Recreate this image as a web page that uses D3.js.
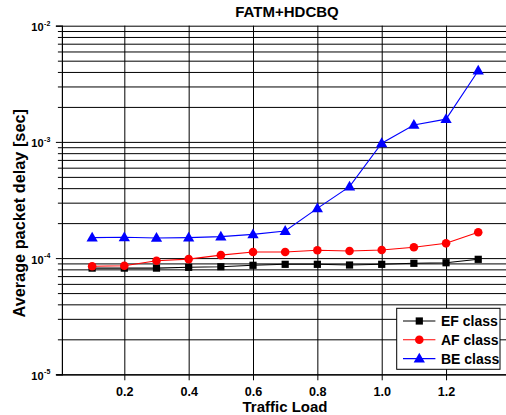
<!DOCTYPE html>
<html>
<head>
<meta charset="utf-8">
<script src="https://cdn.jsdelivr.net/npm/d3@7"></script>
<style>
  html, body { margin: 0; padding: 0; background: #fff; }
  svg { display: block; font-family: "Liberation Sans", Arial, sans-serif; font-weight: bold; }
</style>
</head>
<body>
<svg id="chart" width="506" height="415"></svg>
<script>
// Offered traffic load (x) and mean packet delay per class (seconds)
const loads = [0.1, 0.2, 0.3, 0.4, 0.5, 0.6, 0.7, 0.8, 0.9, 1.0, 1.1, 1.2, 1.3];
const efDelay = [8.2e-5, 8.2e-5, 8.2e-5, 8.33e-5, 8.43e-5, 8.67e-5, 8.84e-5, 8.84e-5, 8.72e-5, 8.84e-5, 9.02e-5, 9.12e-5, 9.76e-5];
const afDelay = [8.5e-5, 8.6e-5, 9.5e-5, 9.8e-5, 1.06e-4, 1.13e-4, 1.13e-4, 1.167e-4, 1.15e-4, 1.174e-4, 1.24e-4, 1.34e-4, 1.667e-4];
const beDelay = [1.5e-4, 1.51e-4, 1.49e-4, 1.5e-4, 1.53e-4, 1.6e-4, 1.71e-4, 2.68e-4, 4.12e-4, 9.73e-4, 1.4e-3, 1.57e-3, 4.1e-3];

const seriesNames = ["EF class", "AF class", "BE class"];
const seriesColors = ["#000000", "#ff0000", "#0000ff"];
const seriesSymbols = [d3.symbolSquare, d3.symbolCircle, d3.symbolTriangle];

const xTickValues = [0.2, 0.4, 0.6, 0.8, 1.0, 1.2];
const yDecades = [1e-5, 1e-4, 1e-3, 1e-2];
const yExponents = ["-5", "-4", "-3", "-2"];

const chartTitle = "FATM+HDCBQ";
const xTitle = "Traffic Load";
const yTitle = "Average packet delay [sec]";

const svg = d3.select("#chart");

const plotLeft = 61.9, plotTop = 25.7, plotBottom = 374.3, plotRight = 510.4;
const x = d3.scaleLinear().domain([0.006, 1.4]).range([plotLeft, plotRight]);
const y = d3.scaleLog().domain([1e-5, 1e-2]).range([plotBottom, plotTop]);

// every 1..9 x 10^k step between the decades
const yAllTicks = [];
for (let e = -5; e < -2; e++) {
  for (let m = 1; m <= 9; m++) yAllTicks.push(m * Math.pow(10, e));
}
yAllTicks.push(1e-2);
const yMinorTicks = yAllTicks.filter(v => !yDecades.some(d => Math.abs(d - v) / d < 1e-9));

// horizontal grid
svg.append("g")
  .attr("transform", `translate(${plotLeft},0)`)
  .call(d3.axisLeft(y).tickValues(yAllTicks).tickSize(-(plotRight - plotLeft)).tickFormat(""))
  .call(g => g.select(".domain").remove())
  .call(g => g.selectAll("line").attr("stroke", "#000").attr("stroke-width", 1));

// vertical grid
svg.append("g")
  .attr("transform", `translate(0,${plotBottom})`)
  .call(d3.axisBottom(x).tickValues(xTickValues).tickSize(-(plotBottom - plotTop)).tickFormat(""))
  .call(g => g.select(".domain").remove())
  .call(g => g.selectAll("line").attr("stroke", "#000").attr("stroke-width", 1));

// y axis: minor ticks
svg.append("g")
  .attr("transform", `translate(${plotLeft},0)`)
  .call(d3.axisLeft(y).tickValues(yMinorTicks).tickSize(4).tickFormat(""))
  .call(g => g.select(".domain").remove());

// y axis: decades with power-of-ten labels
const yMajor = svg.append("g")
  .attr("transform", `translate(${plotLeft},0)`)
  .call(d3.axisLeft(y).tickValues(yDecades).tickSize(6).tickFormat(""))
  .call(g => g.select(".domain").attr("stroke-width", 1.2));

yMajor.selectAll(".tick").each(function(d, i) {
  const t = d3.select(this);
  t.append("text")
    .attr("x", -18.3).attr("y", 5)
    .attr("text-anchor", "end")
    .attr("fill", "#000")
    .style("font-size", "11px")
    .style("font-weight", "bold")
    .text("10");
  t.append("text")
    .attr("x", -17.8).attr("y", -0.6)
    .attr("text-anchor", "start")
    .attr("fill", "#000")
    .style("font-size", "7px")
    .style("font-weight", "bold")
    .text(yExponents[i]);
});

// x axis
svg.append("g")
  .attr("transform", `translate(0,${plotBottom})`)
  .call(d3.axisBottom(x).tickValues(xTickValues).tickSize(6).tickPadding(6.8).tickFormat(d3.format(".1f")))
  .call(g => g.select(".domain").attr("d", `M${plotLeft - 5.5},0.5H${plotRight}`).attr("stroke-width", 1.2))
  .call(g => g.selectAll("text")
    .style("font-size", "12.6px")
    .style("font-weight", "bold")
    .style("font-family", "'Liberation Sans', Arial, sans-serif")
    .attr("fill", "#000"));

// series
const allSeries = [efDelay, afDelay, beDelay];
const line = d3.line().x(d => x(d[0])).y(d => y(d[1]));
const symbolSizes = [52, 58, 55];

allSeries.forEach((vals, i) => {
  const pts = loads.map((l, j) => [l, vals[j]]);
  svg.append("path")
    .datum(pts)
    .attr("fill", "none")
    .attr("stroke", seriesColors[i])
    .attr("stroke-width", 1.1)
    .attr("d", line);
  svg.append("g").selectAll("path")
    .data(pts)
    .join("path")
    .attr("transform", d => `translate(${x(d[0])},${y(d[1]) + (i === 2 ? 0.6 : 0)})`)
    .attr("d", d3.symbol().type(seriesSymbols[i]).size(symbolSizes[i]))
    .attr("fill", seriesColors[i]);
});

// legend
const legend = svg.append("g").attr("transform", "translate(396.7,308.3)");
legend.append("rect")
  .attr("width", 103.3).attr("height", 61)
  .attr("fill", "#fff").attr("stroke", "#000").attr("stroke-width", 1);
seriesNames.forEach((name, i) => {
  const yy = 12.7 + i * 18.8;
  legend.append("line")
    .attr("x1", 6.3).attr("x2", 38.7).attr("y1", yy).attr("y2", yy)
    .attr("stroke", seriesColors[i]).attr("stroke-width", 1.1);
  legend.append("path")
    .attr("transform", `translate(22.6,${yy + (i === 2 ? 0.6 : 0)})`)
    .attr("d", d3.symbol().type(seriesSymbols[i]).size(symbolSizes[i]))
    .attr("fill", seriesColors[i]);
  legend.append("text")
    .attr("x", 44.3).attr("y", yy + 5)
    .style("font-size", "14px")
    .attr("fill", "#000")
    .text(name);
});

// titles
svg.append("text")
  .attr("x", 287).attr("y", 17.3)
  .attr("text-anchor", "middle")
  .style("font-size", "15px")
  .text(chartTitle);

svg.append("text")
  .attr("x", 285).attr("y", 412.4)
  .attr("text-anchor", "middle")
  .style("font-size", "15px")
  .text(xTitle);

svg.append("text")
  .attr("transform", "translate(25,213.3) rotate(-90)")
  .attr("text-anchor", "middle")
  .style("font-size", "16.3px")
  .text(yTitle);
</script>
</body>
</html>
